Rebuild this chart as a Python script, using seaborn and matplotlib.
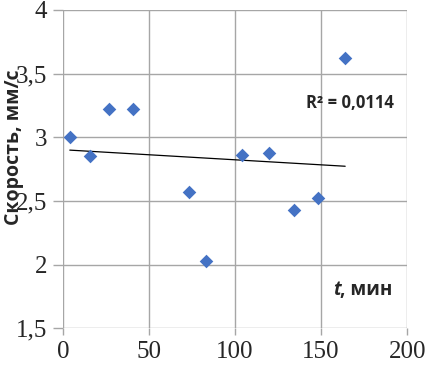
import numpy as np
import pandas as pd
import matplotlib
matplotlib.use("Agg")
import matplotlib.pyplot as plt
import seaborn as sns

# Data
t_min = [4, 16, 27, 41, 73, 83, 104, 120, 134, 148, 164]
speed = [3.00, 2.85, 3.22, 3.22, 2.57, 2.03, 2.86, 2.88, 2.43, 2.52, 3.62]
x_ticks = [0, 50, 100, 150, 200]
y_ticks = [1.5, 2, 2.5, 3, 3.5, 4]
y_tick_labels = ["1,5", "2", "2,5", "3", "3,5", "4"]
r2_text = "R² = 0,0114"
y_label = "Скорость, мм/с"

df = pd.DataFrame({"t": t_min, "v": speed})

sns.set_theme(style="white")
plt.rcParams["font.family"] = ["Liberation Serif", "DejaVu Serif"]

fig = plt.figure(figsize=(4.25, 3.66), dpi=100)
ax = fig.add_axes([0.148, 0.103, 0.81, 0.87])

grid_c = "#a6a6a6"
ax.set_xlim(0, 200)
ax.set_ylim(1.5, 4)
ax.set_xticks(x_ticks)
ax.set_yticks(y_ticks)
ax.set_yticklabels(y_tick_labels)
ax.grid(True, color=grid_c, linewidth=1.0)
ax.set_axisbelow(True)
for s in ax.spines.values():
    s.set_visible(False)
ax.tick_params(axis="y", length=7.5, width=1.0, color=grid_c, pad=4, labelsize=18, left=True)
ax.tick_params(axis="x", length=5, width=1.0, color=grid_c, pad=4, labelsize=18, bottom=True)
for lab in ax.get_xticklabels() + ax.get_yticklabels():
    lab.set_family(["Liberation Serif", "DejaVu Serif"])

sns.regplot(data=df, x="t", y="v", scatter=False, ci=None, ax=ax,
            line_kws=dict(color="black", linewidth=0.9))
sns.scatterplot(data=df, x="t", y="v", marker="D", s=48, color="#4472C4",
                linewidth=0, ax=ax, zorder=3)

ax.set_xlabel("")
ax.set_ylabel("")

sans = ["Open Sans", "DejaVu Sans"]
fig.text(0.032, 0.597, y_label, rotation=90, ha="center", va="center",
         fontsize=14, fontweight="bold", family=sans)
fig.text(0.823, 0.718, r2_text, ha="center", va="center",
         fontsize=12, fontweight="bold", family=sans)
fig.text(0.783, 0.207, "t", ha="left", va="center", fontsize=13.5,
         fontweight="bold", fontstyle="italic", family=sans)
fig.text(0.800, 0.207, ", мин", ha="left", va="center", fontsize=13.5,
         fontweight="bold", family=sans)

fig.savefig("out.png", dpi=100)
